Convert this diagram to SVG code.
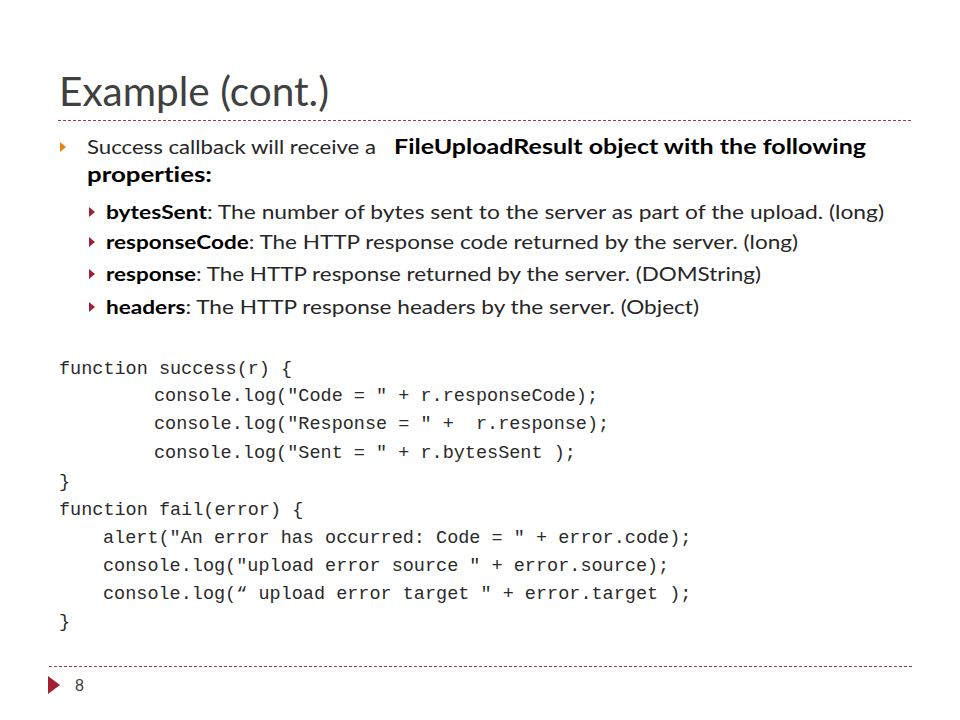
<svg xmlns="http://www.w3.org/2000/svg" width="960" height="720" viewBox="0 0 960 720">
<style>
.t{font-family:"Lato","Open Sans","Noto Sans",sans-serif;fill:#262626;font-variant-ligatures:none}
.b{font-weight:bold;fill:#000}
.code{font-family:"Liberation Mono","DejaVu Sans Mono",monospace;font-size:18.5px;fill:#2a2a2a;white-space:pre}
.dash{stroke:#9a3a4a;stroke-width:1;stroke-dasharray:3 2;fill:none}
.b1{fill:#e48312}
.b2{fill:#9b2335}
</style>
<rect width="960" height="720" fill="#fff"/>
<g id="title">
<text class="t" x="59" y="106" font-size="40" style="fill:#404040" textLength="270" lengthAdjust="spacingAndGlyphs">Example (cont.)</text>
<line class="dash" x1="58" y1="120.5" x2="913" y2="120.5"/>
</g>
<g id="bullets">
<polygon class="b1" points="60,142 66,147 60,152"/>
<text class="t" x="87" y="154" font-size="18.5" textLength="289" lengthAdjust="spacingAndGlyphs">Success callback will receive a</text>
<text class="t b" x="394" y="154" font-size="21" textLength="472" lengthAdjust="spacingAndGlyphs">FileUploadResult object with the following</text>
<text class="t b" x="87" y="182" font-size="21" textLength="125" lengthAdjust="spacingAndGlyphs">properties:</text>
<polygon class="b2" points="89,207 95,212 89,217"/>
<text class="t" x="106" y="219" font-size="19" textLength="778" lengthAdjust="spacingAndGlyphs"><tspan class="b">bytesSent</tspan>: The number of bytes sent to the server as part of the upload. (long)</text>
<polygon class="b2" points="89,237 95,242 89,247"/>
<text class="t" x="106" y="249" font-size="19" textLength="692" lengthAdjust="spacingAndGlyphs"><tspan class="b">responseCode</tspan>: The HTTP response code returned by the server. (long)</text>
<polygon class="b2" points="89,269 95,274 89,279"/>
<text class="t" x="106" y="281" font-size="19" textLength="655" lengthAdjust="spacingAndGlyphs"><tspan class="b">response</tspan>: The HTTP response returned by the server. (DOMString)</text>
<polygon class="b2" points="89,302 95,307 89,312"/>
<text class="t" x="106" y="314" font-size="19" textLength="593" lengthAdjust="spacingAndGlyphs"><tspan class="b">headers</tspan>: The HTTP response headers by the server. (Object)</text>
</g>
<g id="code">
<text class="code" x="59" y="374">function success(r) {</text>
<text class="code" x="154" y="401">console.log("Code = " + r.responseCode);</text>
<text class="code" x="154" y="429">console.log("Response = " +  r.response);</text>
<text class="code" x="154" y="458">console.log("Sent = " + r.bytesSent );</text>
<text class="code" x="59" y="487">}</text>
<text class="code" x="59" y="515">function fail(error) {</text>
<text class="code" x="103" y="543">alert("An error has occurred: Code = " + error.code);</text>
<text class="code" x="103" y="571">console.log("upload error source " + error.source);</text>
<text class="code" x="103" y="599">console.log(“ upload error target " + error.target );</text>
<text class="code" x="59" y="627">}</text>
</g>
<g id="footer">
<line class="dash" x1="49" y1="666.5" x2="913" y2="666.5"/>
<polygon fill="#a31f32" points="48,676 60,685 48,694"/>
<text x="75" y="691" font-family="Liberation Sans, Arial, sans-serif" font-size="16" fill="#404040">8</text>
</g>
</svg>
